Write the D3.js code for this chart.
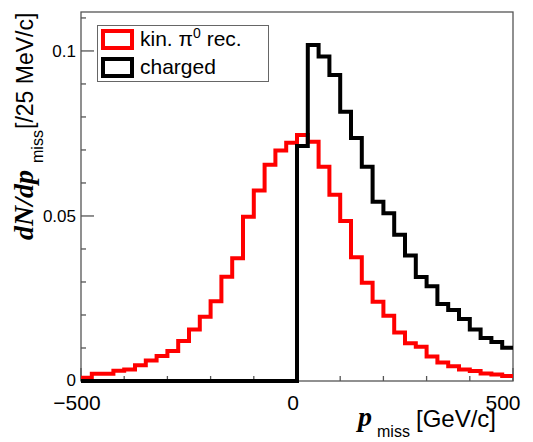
<!DOCTYPE html>
<html>
<head>
<meta charset="utf-8">
<script src="https://cdn.jsdelivr.net/npm/d3@7"></script>
<style>
  body { margin: 0; background: #fff; }
  svg { display: block; }
  text { font-family: "Liberation Sans", Arial, sans-serif; fill: #000; }
  .serif { font-family: "Liberation Serif", "Times New Roman", serif; font-weight: bold; font-style: italic; }
</style>
</head>
<body>
<svg id="chart" width="533" height="442"></svg>
<script>
// bin edges every 25 MeV/c from -500 to 500
let binEdges = d3.range(-500, 501, 25);
// kin. pi0 rec.
let redVals = [0.0010, 0.0022, 0.0022, 0.0031, 0.0035, 0.0048, 0.0062, 0.0076, 0.0091, 0.0121,
               0.0156, 0.0195, 0.0242, 0.0316, 0.0372, 0.0498, 0.0577, 0.0655, 0.0698, 0.0722,
               0.0745, 0.0725, 0.0649, 0.0564, 0.0485, 0.0375, 0.0298, 0.0240, 0.0198, 0.0147,
               0.0114, 0.0104, 0.0074, 0.0056, 0.0045, 0.0035, 0.0030, 0.0023, 0.0020, 0.0015];
// charged
let blackVals = [0, 0, 0, 0, 0, 0, 0, 0, 0, 0,
                 0, 0, 0, 0, 0, 0, 0, 0, 0, 0,
                 0.0712, 0.1018, 0.0983, 0.0927, 0.0816, 0.0736, 0.0649, 0.0543, 0.0508, 0.0443,
                 0.0380, 0.0315, 0.0287, 0.0233, 0.0215, 0.0188, 0.0156, 0.0130, 0.0118, 0.0101];
let xMajor = [-500, 0, 500];
let xMinor = [-400, -300, -200, -100, 100, 200, 300, 400];
let yMajor = [0, 0.05, 0.1];
let yMinor = d3.range(0.01, 0.111, 0.01);

let padL = 81, padR = 513, padT = 12, padB = 381;

let svg = d3.select('#chart');

let x = d3.scaleLinear().domain([-500, 500]).range([padL, padR]);
let y = d3.scaleLinear().domain([0, 0.1118]).range([padB, padT]);

let axisColor = '#555';

// frame
svg.append('rect')
   .attr('x', padL).attr('y', padT)
   .attr('width', padR - padL).attr('height', padB - padT)
   .attr('fill', 'none').attr('stroke', axisColor).attr('stroke-width', 1.3);

// y ticks
svg.append('g').selectAll('line')
   .data(yMinor.filter(v => !yMajor.some(m => Math.abs(m - v) < 1e-6)))
   .enter().append('line')
   .attr('x1', padL).attr('x2', padL + 5)
   .attr('y1', d => y(d)).attr('y2', d => y(d))
   .attr('stroke', axisColor).attr('stroke-width', 1.3);
svg.append('g').selectAll('line')
   .data(yMajor)
   .enter().append('line')
   .attr('x1', padL).attr('x2', padL + 13)
   .attr('y1', d => y(d)).attr('y2', d => y(d))
   .attr('stroke', axisColor).attr('stroke-width', 1.3);
svg.append('g').selectAll('text')
   .data(yMajor)
   .enter().append('text')
   .attr('x', padL - 5).attr('y', d => y(d) - (d === 0 ? 1 : 0))
   .attr('dy', '0.36em')
   .attr('text-anchor', 'end')
   .style('font-size', '17px')
   .text(d => d3.format('~g')(d));

// x ticks
svg.append('g').selectAll('line')
   .data(xMinor)
   .enter().append('line')
   .attr('x1', d => x(d)).attr('x2', d => x(d))
   .attr('y1', padB).attr('y2', padB - 5)
   .attr('stroke', axisColor).attr('stroke-width', 1.3);
svg.append('g').selectAll('line')
   .data(xMajor)
   .enter().append('line')
   .attr('x1', d => x(d)).attr('x2', d => x(d))
   .attr('y1', padB).attr('y2', padB - 13)
   .attr('stroke', axisColor).attr('stroke-width', 1.3);
svg.append('g').selectAll('text')
   .data(xMajor)
   .enter().append('text')
   .attr('x', d => x(d) + (d === 500 ? -10 : -4)).attr('y', 410)
   .attr('text-anchor', 'middle')
   .style('font-size', '21px')
   .text(d => d < 0 ? '\u2212' + Math.abs(d) : d);

// histograms
let stepLine = d3.line()
                 .x(d => x(d[0]))
                 .y(d => y(d[1]))
                 .curve(d3.curveStepAfter);
let toPoints = vals => {
    let pts = vals.map((v, i) => [binEdges[i], v]);
    pts.push([binEdges[vals.length], vals[vals.length - 1]]);
    return pts;
};

svg.append('path')
   .attr('d', stepLine(toPoints(redVals)))
   .attr('fill', 'none').attr('stroke', '#ff0000').attr('stroke-width', 4);
svg.append('path')
   .attr('d', stepLine(toPoints(blackVals)))
   .attr('fill', 'none').attr('stroke', '#000').attr('stroke-width', 4);

// legend
let legend = svg.append('g');
legend.append('rect')
      .attr('x', 97.5).attr('y', 25.5).attr('width', 171).attr('height', 56)
      .attr('fill', '#fff').attr('stroke', '#666').attr('stroke-width', 1);
let entries = [
    {label: 'kin. \u03c0', sup: '0', rest: ' rec.', color: '#ff0000'},
    {label: 'charged', sup: '', rest: '', color: '#000'}
];
entries.forEach((e, i) => {
    let yy = 31 + i * 28;
    legend.append('rect')
          .attr('x', 103).attr('y', yy).attr('width', 29).attr('height', 17)
          .attr('fill', 'none').attr('stroke', e.color).attr('stroke-width', 4);
    let t = legend.append('text')
          .attr('x', 140).attr('y', yy + 15)
          .style('font-size', '21px');
    t.append('tspan').text(e.label);
    if (e.sup) {
        t.append('tspan').attr('dy', -8).style('font-size', '14px').text(e.sup);
        t.append('tspan').attr('dy', 8).text(e.rest);
    }
});

// x title
let xt = svg.append('text').attr('x', 358).attr('y', 426);
xt.append('tspan').attr('class', 'serif').style('font-size', '28px').text('p');
xt.append('tspan').attr('x', 377).attr('y', 437).style('font-size', '16px').text('miss');
xt.append('tspan').attr('x', 416).attr('y', 427).style('font-size', '24px').text('[GeV/c]');

// y title
let yt = svg.append('text').attr('transform', 'translate(33,240) rotate(-90)');
yt.append('tspan').attr('x', 0).attr('y', 0).attr('class', 'serif').style('font-size', '28px').text('dN/dp');
yt.append('tspan').attr('x', 77).attr('y', 10).style('font-size', '16px').text('miss');
yt.append('tspan').attr('x', 111).attr('y', 0).style('font-size', '23px').text('[/25 MeV/c]');
</script>
</body>
</html>
